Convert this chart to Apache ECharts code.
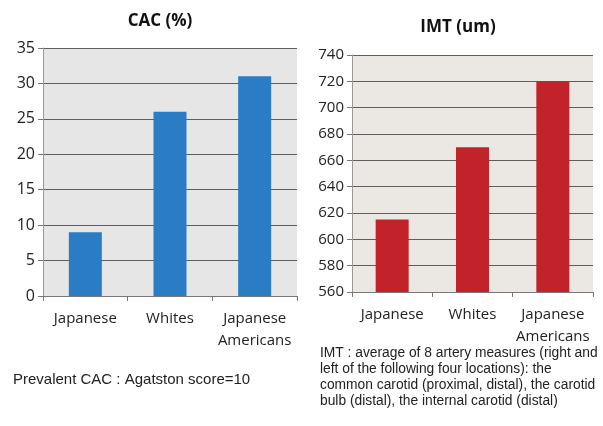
<!DOCTYPE html>
<html>
<head>
<meta charset="utf-8">
<script src="https://cdn.jsdelivr.net/npm/echarts@6/dist/echarts.min.js"></script>
<style>
  html, body { margin: 0; padding: 0; background: #fff; }
  #main { width: 603px; height: 426px; }
</style>
</head>
<body>
<div id="main"></div>
<script>
  // data
  const categories = ['Japanese', 'Whites', 'Japanese\nAmericans'];
  const cacValues = [9, 26, 31];
  const imtValues = [615, 670, 720];
  const cacTicks = { min: 0, max: 35, interval: 5 };
  const imtTicks = { min: 560, max: 740, interval: 20 };
  const cacNote = 'Prevalent CAC : Agatston score=10';
  const imtNote = [
    'IMT : average of 8 artery measures (right and',
    'left of the following four locations): the',
    'common carotid (proximal, distal), the carotid',
    'bulb (distal), the internal carotid (distal)'
  ];

  const labelFont = 'Open Sans';
  const axisText = { color: '#222', fontFamily: labelFont, fontSize: 15 };

  function xAxisFor(gridIndex) {
    return {
      type: 'category',
      gridIndex: gridIndex,
      data: categories,
      axisLine: { lineStyle: { color: '#777', width: 1 } },
      axisTick: { show: true, length: 5, lineStyle: { color: '#777' } },
      axisLabel: Object.assign({ margin: 12, lineHeight: 22, interval: 0 }, axisText)
    };
  }
  function yAxisFor(gridIndex, t, size) {
    return {
      type: 'value',
      gridIndex: gridIndex,
      min: t.min, max: t.max, interval: t.interval,
      axisLine: { show: true, lineStyle: { color: '#999', width: 1 } },
      axisTick: { show: true, length: 5, lineStyle: { color: '#777' } },
      splitLine: { lineStyle: { color: '#5e5e5e', width: 1 } },
      axisLabel: Object.assign({ margin: 8 }, axisText, { fontSize: size })
    };
  }

  let myChart = echarts.init(document.getElementById('main'));
  myChart.setOption({
    animation: false,
    backgroundColor: '#ffffff',
    title: [
      {
        text: 'CAC (%)', left: 155, top: 8, textAlign: 'center',
        textStyle: { fontFamily: labelFont, fontWeight: 'bold', fontSize: 17, color: '#111' }
      },
      {
        text: 'IMT (um)', left: 453, top: 14, textAlign: 'center',
        textStyle: { fontFamily: labelFont, fontWeight: 'bold', fontSize: 17, color: '#111' }
      }
    ],
    grid: [
      { left: 43, right: 306, top: 48, bottom: 130, show: true, backgroundColor: '#e6e6e6', borderWidth: 0 },
      { left: 352, right: 10, top: 55, bottom: 134, show: true, backgroundColor: '#ebe7e2', borderWidth: 0 }
    ],
    xAxis: [xAxisFor(0), xAxisFor(1)],
    yAxis: [yAxisFor(0, cacTicks, 16), yAxisFor(1, imtTicks, 15)],
    series: [
      {
        name: 'CAC', type: 'bar', xAxisIndex: 0, yAxisIndex: 0,
        data: cacValues, barWidth: 33,
        itemStyle: { color: '#2a7cc4' }
      },
      {
        name: 'IMT', type: 'bar', xAxisIndex: 1, yAxisIndex: 1,
        data: imtValues, barWidth: 33,
        itemStyle: { color: '#c2232a' }
      }
    ],
    graphic: [
      {
        type: 'text', left: 13, top: 372,
        style: { text: cacNote, fontFamily: 'Liberation Sans', fontSize: 15, fill: '#222' }
      },
      {
        type: 'text', left: 320, top: 345,
        style: {
          text: imtNote.join('\n'), fontFamily: 'Liberation Sans',
          fontSize: 13.8, lineHeight: 16, fill: '#222'
        }
      }
    ]
  });
</script>
</body>
</html>
